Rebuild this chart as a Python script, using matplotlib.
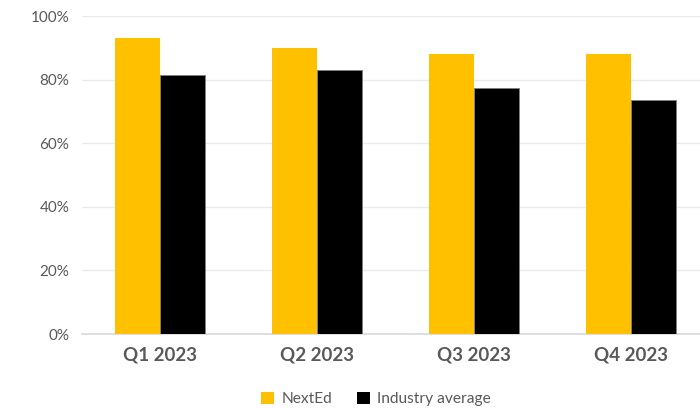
import matplotlib
matplotlib.use("Agg")
import matplotlib.pyplot as plt
from matplotlib.patches import Patch
from matplotlib.ticker import FuncFormatter
import numpy as np

categories = ["Q1 2023", "Q2 2023", "Q3 2023", "Q4 2023"]
nexted = [93.0, 89.8, 88.2, 88.2]
industry = [81.3, 83.0, 77.4, 73.6]
series_names = ["NextEd", "Industry average"]
yticks = [0, 20, 40, 60, 80, 100]

plt.rcParams['font.family'] = ['Lato', 'DejaVu Sans']

fig = plt.figure(figsize=(7.0, 4.08), dpi=100)
ax = fig.add_axes([82/700, 74/408, 618/700, 318/408])

x = np.arange(len(categories))
w = 0.287
ax.bar(x - w/2, nexted, width=w, color="#FFC000", zorder=3)
ax.bar(x + w/2, industry, width=w, color="#000000", edgecolor="#7f7f7f", linewidth=0.6, zorder=3)

ax.set_xlim(-0.497, 3.44)
ax.set_ylim(0, 100)
ax.set_yticks(yticks)
ax.yaxis.set_major_formatter(FuncFormatter(lambda v, p: f"{int(v)}%"))
ax.grid(axis='y', color="#ebebeb", linewidth=1.0, zorder=0)
for s in ["top", "right", "left"]:
    ax.spines[s].set_visible(False)
ax.spines["bottom"].set_color("#d9d9d9")
ax.spines["bottom"].set_linewidth(1.2)
ax.tick_params(axis='both', length=0)
ax.tick_params(axis='y', labelsize=11, labelcolor="#595959", pad=9)
ax.set_xticks(x)
ax.set_xticklabels(categories, fontsize=13.5, fontweight='bold', color="#595959")
ax.tick_params(axis='x', pad=9)

handles = [Patch(facecolor="#FFC000"), Patch(facecolor="#000000")]
fig.legend(handles, series_names, loc='center', bbox_to_anchor=(376/700, 1 - 399/408),
           ncol=2, frameon=False, fontsize=11.2, labelcolor="#595959",
           handlelength=0.85, handleheight=0.85, handletextpad=0.45, columnspacing=1.6)

fig.savefig("out.png", dpi=100)
